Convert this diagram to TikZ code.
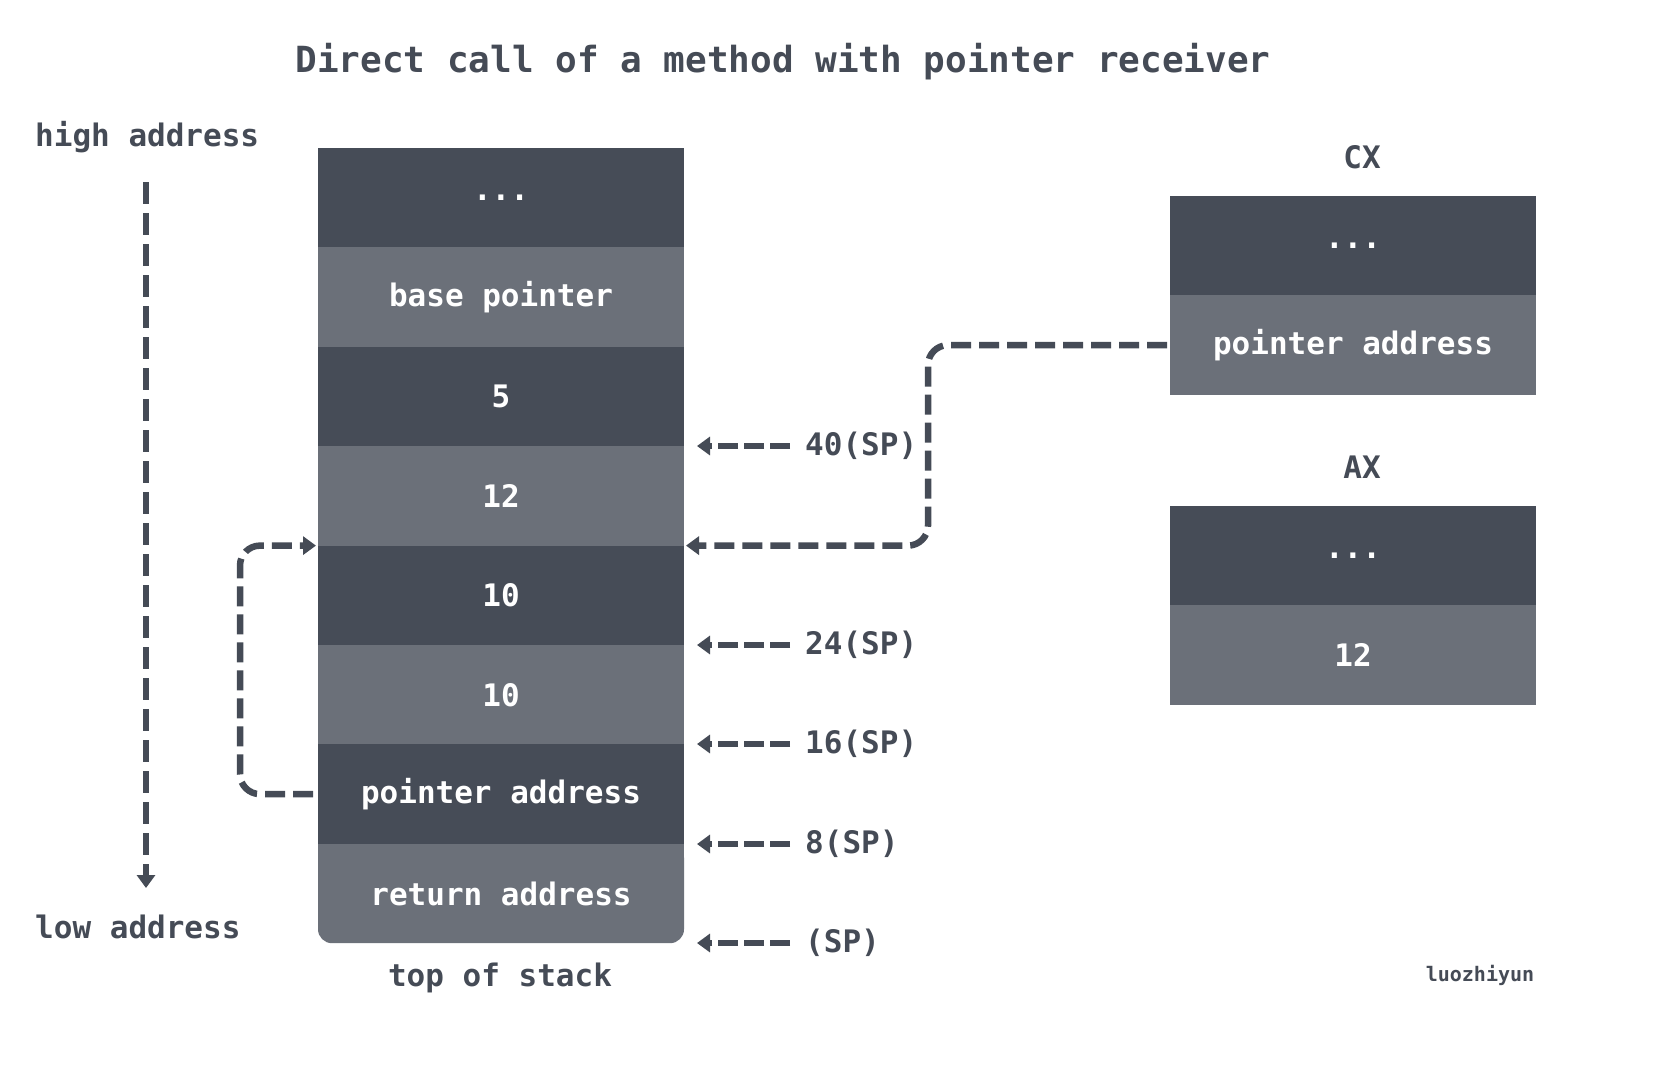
\documentclass[tikz,border=0pt]{standalone}
\usepackage{fontspec}
\setmainfont{DejaVu Sans Mono}
\usetikzlibrary{positioning,matrix,fit}
\usetikzlibrary{backgrounds}
\usetikzlibrary{calc}
\usetikzlibrary{arrows.meta}
\definecolor{stackDarkColor}{HTML}{464C57}
\definecolor{stackLightColor}{HTML}{6B7079}
\definecolor{inkColor}{HTML}{454B56}
\newcommand{\cellFont}{\bfseries\fontsize{31}{36}\selectfont}
\newcommand{\titleFont}{\bfseries\fontsize{36}{42}\selectfont}
\newcommand{\signFont}{\bfseries\fontsize{20}{24}\selectfont}

\begin{document}
\begin{tikzpicture}[x=1pt, y=-1pt,
    link/.style={draw=inkColor, line width=6.5pt, dash pattern=on 20pt off 8pt, rounded corners=20pt},
    tipped/.style={link, -{Triangle[length=13pt,width=18pt]}},
    inkText/.style={text=inkColor, font=\cellFont},
    slotCells/.style={matrix of nodes, anchor=north west, inner sep=0, outer sep=0, row sep=0,
        nodes={minimum height=99.4pt, minimum width=366pt, outer sep=0, inner sep=0, anchor=center,
          text=white, font=\cellFont},
        every odd row/.style={nodes={fill=stackDarkColor}},
        every even row/.style={nodes={fill=stackLightColor}}}
  ]
    \useasboundingbox (0,0) rectangle (1656,1080);
    \begin{scope}[on background layer]
      \fill[white] (0,0) rectangle (1656,1080);
    \end{scope}

    \node[text=inkColor, font=\titleFont] (title) at (783,62) {Direct call of a method with pointer receiver};

    % the stack
    \matrix (stack) [slotCells] at (318,148)
      {
        ...\\
        base pointer\\
        5\\
        12\\
        10\\
        10\\
        pointer address\\
        |[fill=none]| return address\\
      };
    \begin{scope}[on background layer]
      \fill[stackLightColor, rounded corners=14pt] (stack-8-1.north west) rectangle (stack-8-1.south east);
      \fill[stackLightColor] (stack-8-1.north west) rectangle (stack-8-1.east);
    \end{scope}
    \node[inkText] (top) at (500,978) {top of stack};

    % registers
    \matrix (cx) [slotCells] at (1170,196) { ...\\ pointer address\\ };
    \node[inkText] (cxName) at (1362,157) {CX};
    \matrix (ax) [slotCells] at (1170,506) { ...\\ 12\\ };
    \node[inkText] (axName) at (1362,467) {AX};

    % address direction
    \node[inkText, anchor=west, inner sep=0] (hiAddr) at (35,137) {high address};
    \node[inkText, anchor=west, inner sep=0] (loAddr) at (35,927) {low address};
    \coordinate (dirTop) at (146,182);
    \coordinate (dirBot) at (146,888);
    \draw[tipped, dash pattern=on 22pt off 9pt] (dirTop) -- (dirBot);

    % offsets from SP
    \node[inkText, anchor=west, inner sep=0] (sp40) at (805,446) {40(SP)};
    \node[inkText, anchor=west, inner sep=0] (sp24) at (805,645) {24(SP)};
    \node[inkText, anchor=west, inner sep=0] (sp16) at (805,744) {16(SP)};
    \node[inkText, anchor=west, inner sep=0] (sp8) at (805,844) {8(SP)};
    \node[inkText, anchor=west, inner sep=0] (sp0) at (805,943) {(SP)};
    \foreach \n in {sp40,sp24,sp16,sp8,sp0}
      \draw[tipped, dash pattern=on 20pt off 6pt, shorten <=15pt, shorten >=13pt] (\n.west) -- (\n.west -| stack.east);

    % pointer moves
    \coordinate (bend) at (928,0);
    \draw[tipped] ($(cx-2-1.west)+(-3,0)$) -- (cx-2-1.west -| bend) -- (bend |- stack-5-1.north east)
      -- ($(stack-5-1.north east)+(2,0)$);
    \coordinate (loop) at (240,0);
    \draw[tipped] ($(stack-7-1.west)+(-5,0)$) -- (stack-7-1.west -| loop) -- (loop |- stack-5-1.north west)
      -- ($(stack-5-1.north west)+(-2,0)$);

    \node[text=inkColor, font=\signFont] (sign) at (1480,975) {luozhiyun};
\end{tikzpicture}
\end{document}
